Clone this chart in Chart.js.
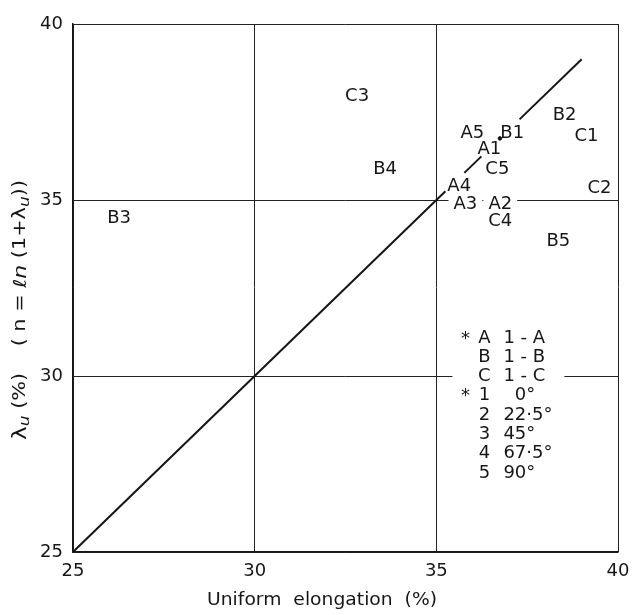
<!DOCTYPE html>
<html><head><meta charset="utf-8">
<script src="https://cdn.jsdelivr.net/npm/chart.js@4.4.1/dist/chart.umd.min.js"></script>
<style>html,body{margin:0;padding:0;background:#fff}#wrap{width:634px;height:615px;position:relative}</style>
</head><body><div id="wrap"><canvas id="c"></canvas></div>
<script>
const xTicks = [25, 30, 35, 40];
const yTicks = [25, 30, 35, 40];
// diagonal line (y = x), null = break in the drawn line
const lineX = [25, 35.25, null, 35.77, 36.24, null, 37.29, 39];
const lineY = [25, 35.25, null, 35.77, 36.24, null, 37.29, 39];
const dotX = [36.75];
const dotY = [36.75];
const pointLabels = ["C3","B4","A5","B1","A1","C5","A4","A3","A2","C4","B2","C1","C2","B5","B3"];
const pointX = [32.82,33.59,35.99,37.09,36.46,36.68,35.63,35.80,36.76,36.76,38.53,39.13,39.49,38.36,26.27];
const pointY = [37.98,35.91,36.93,36.93,36.48,35.91,35.43,34.91,34.91,34.43,37.44,36.85,35.37,33.86,34.52];
const legendMarks = ["*","","","*","","","",""];
const legendKeys = ["A","B","C","1","2","3","4","5"];
const legendDesc = ["1 - A","1 - B","1 - C","\u20070°","22·5°","45°","67·5°","90°"];
const legendAnchorX = 35.8, legendAnchorY = 31.11;
const xTitle = "Uniform  elongation  (%)";

const FONT = '"DejaVu Sans", sans-serif';
const INK = '#161616';

const lineData = lineX.map((x, i) => x === null ? {x: lineX[i-1], y: null} : {x: x, y: lineY[i]});
const dotData = dotX.map((x, i) => ({x: x, y: dotY[i]}));

const annot = {
  id: 'annot',
  beforeDatasetsDraw(chart) {
    const ctx = chart.ctx, xs = chart.scales.x, ys = chart.scales.y;
    ctx.save();
    ctx.font = '18px ' + FONT;
    ctx.textAlign = 'center';
    ctx.textBaseline = 'middle';
    pointLabels.forEach((t, i) => {
      const px = xs.getPixelForValue(pointX[i]), py = ys.getPixelForValue(pointY[i]);
      const w = ctx.measureText(t).width;
      ctx.fillStyle = '#fff';
      ctx.fillRect(px - w/2 - 5, py - 8, w + 10, 16);
    });
    ctx.fillStyle = INK;
    pointLabels.forEach((t, i) => {
      const px = xs.getPixelForValue(pointX[i]), py = ys.getPixelForValue(pointY[i]);
      ctx.fillText(t, px, py + 1);
    });
    // legend
    const lx = xs.getPixelForValue(legendAnchorX), ly = ys.getPixelForValue(legendAnchorY);
    const step = 19.3;
    ctx.fillStyle = '#fff';
    ctx.fillRect(lx - 13, ly - 10, 112, step * legendKeys.length + 2);
    ctx.fillStyle = INK;
    legendKeys.forEach((k, i) => {
      const y = ly + i * step;
      ctx.textAlign = 'center';
      if (legendMarks[i]) ctx.fillText(legendMarks[i], lx, y + 2);
      ctx.fillText(k, lx + 19, y + 1);
      ctx.textAlign = 'left';
      ctx.fillText(legendDesc[i], lx + 38, y + 1);
    });
    ctx.restore();
  },
  afterDraw(chart) {
    const ctx = chart.ctx;
    ctx.save();
    ctx.fillStyle = INK;
    ctx.font = '17px ' + FONT;
    ctx.textAlign = 'center';
    ctx.textBaseline = 'middle';
    const tw = ctx.measureText(xTitle).width;
    ctx.save();
    ctx.translate(322, 601);
    ctx.scale(230 / tw, 1);
    ctx.fillText(xTitle, 0, 0);
    ctx.restore();
    // y title, rotated
    const parts = [
      {t: 'λ', f: '19px ' + FONT, dy: 0},
      {t: 'u', f: 'italic 14px ' + FONT, dy: 4},
      {t: ' (%)    ( n = ', f: '17px ' + FONT, dy: 0},
      {t: 'ℓn', f: 'italic 18px ' + FONT, dy: 0},
      {t: ' (1+λ', f: '17px ' + FONT, dy: 0},
      {t: 'u', f: 'italic 14px ' + FONT, dy: 4},
      {t: '))', f: '17px ' + FONT, dy: 0}
    ];
    let total = 0;
    parts.forEach(p => { ctx.font = p.f; p.w = ctx.measureText(p.t).width; total += p.w; });
    ctx.translate(21, 310);
    ctx.rotate(-Math.PI / 2);
    const sx = 260 / total;
    ctx.scale(sx, 1);
    ctx.textAlign = 'left';
    let x = -total / 2;
    parts.forEach(p => { ctx.font = p.f; ctx.fillText(p.t, x, p.dy); x += p.w; });
    ctx.restore();
  }
};

new Chart(document.getElementById('c'), {
  type: 'scatter',
  data: {
    datasets: [
      {data: lineData, showLine: true, spanGaps: false, borderColor: INK, borderWidth: 2, pointRadius: 0, fill: false},
      {data: dotData, pointRadius: 1.8, backgroundColor: INK, borderColor: INK}
    ]
  },
  options: {
    responsive: true,
    maintainAspectRatio: false,
    animation: false,
    layout: {padding: {top: 24, right: 0, left: 0, bottom: 0}},
    plugins: {legend: {display: false}, tooltip: {enabled: false}},
    scales: {
      x: {
        type: 'linear', min: 25, max: 40,
        afterBuildTicks: s => { s.ticks = xTicks.map(v => ({value: v})); },
        ticks: {font: {family: FONT, size: 18}, color: INK, padding: 9, maxRotation: 0},
        grid: {color: '#222', lineWidth: 1, drawTicks: false},
        border: {color: INK, width: 1.5},
        afterFit: s => { s.height = 63; s.paddingRight = 16; s.paddingLeft = 0; }
      },
      y: {
        type: 'linear', min: 25, max: 40,
        afterBuildTicks: s => { s.ticks = yTicks.map(v => ({value: v})); },
        ticks: {font: {family: FONT, size: 18}, color: INK, padding: 10},
        grid: {color: '#222', lineWidth: 1, drawTicks: false},
        border: {color: INK, width: 1.5},
        afterFit: s => { s.width = 73; }
      }
    }
  },
  plugins: [annot]
});
</script>
</body></html>
